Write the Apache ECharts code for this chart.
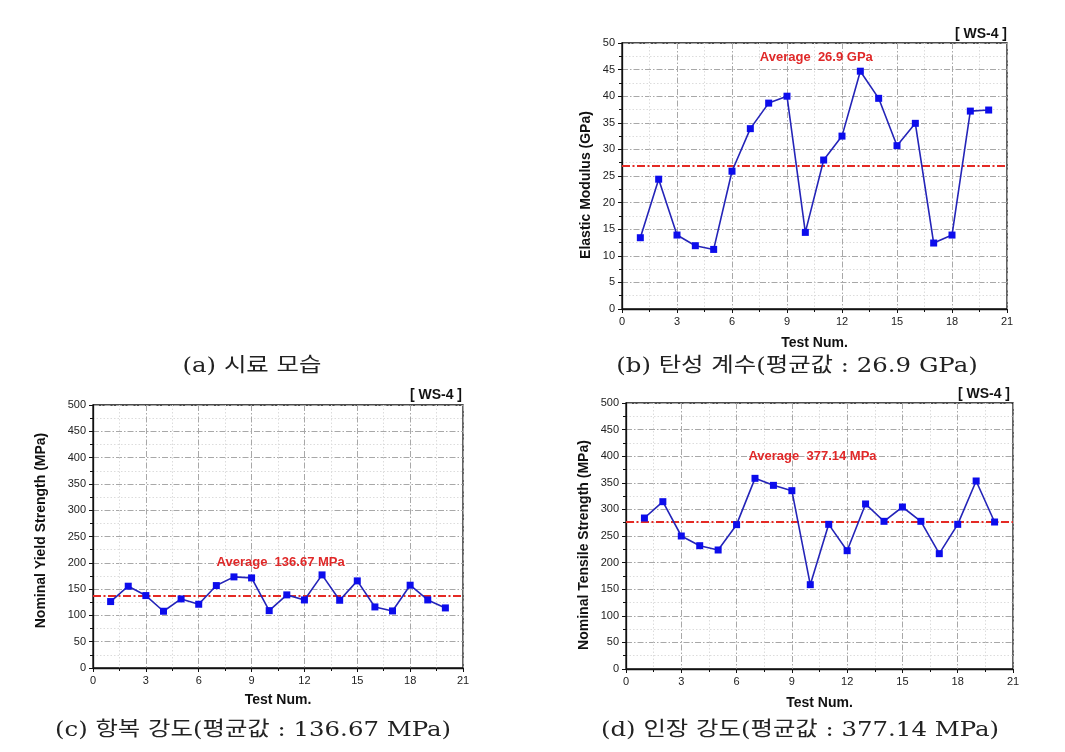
<!DOCTYPE html>
<html>
<head>
<meta charset="utf-8">
<script src="https://cdn.jsdelivr.net/npm/echarts@6/dist/echarts.min.js"></script>
<style>
html,body{margin:0;padding:0;background:#fff;}
#chart{width:1065px;height:752px;}
</style>
</head>
<body>
<div id="chart"></div>
<script>
// ---- data ----
const testNums = [1,2,3,4,5,6,7,8,9,10,11,12,13,14,15,16,17,18,19,20];
const elasticModulus = [13.4,24.4,13.9,11.9,11.2,25.9,33.9,38.7,40.0,14.4,28.0,32.5,44.7,39.6,30.7,34.9,12.4,13.9,37.2,37.4];
const yieldStrength = [126.3,155.5,137.7,107.9,131.3,121.2,156.7,173.2,171.3,109.1,139.0,129.4,177.0,128.8,165.6,116.1,108.5,157.4,129.4,114.2];
const tensileStrength = [283.8,314.5,250.0,231.8,223.7,271.3,358.4,345.2,335.2,158.5,271.9,222.4,310.2,277.6,304.5,277.6,216.8,271.9,353.4,276.3];
const averageLines = [27.0, 136.67, 277.6];
const averageLabels = ['Average  26.9 GPa', 'Average  136.67 MPa', 'Average  377.14 MPa'];
const yAxisNames = ['Elastic Modulus (GPa)', 'Nominal Yield Strength (MPa)', 'Nominal Tensile Strength (MPa)'];
const xAxisName = 'Test Num.';
const yMax = [50, 500, 500];
const yInterval = [5, 50, 50];
const xMax = 21, xInterval = 3;
const specimenTag = '[ WS-4 ]';
const captions = ['(a) 시료 모습', '(b) 탄성 계수(평균값 : 26.9 GPa)', '(c) 항복 강도(평균값 : 136.67 MPa)', '(d) 인장 강도(평균값 : 377.14 MPa)'];

// ---- layout ----
const grids = [
  {left: 622, top: 43, width: 385, height: 266},
  {left: 93, top: 405, width: 370, height: 263},
  {left: 626, top: 403, width: 387, height: 266}
];
const yNameGap = [29, 45, 35];
const yNamePad = [[0,18,0,0],[0,0,0,12],[0,18,0,0]];
const xNameGap = [27, 25, 27];
const labelCoords = [[10.6, 47.2], [10.65, 200.5], [10.12, 399.7]];

const sans = "'Liberation Sans', Arial, sans-serif";
const capFont = "'DejaVu Serif', 'Noto Sans CJK KR', serif";

const seriesData = [elasticModulus, yieldStrength, tensileStrength];

const axisCommon = {
  axisLine: {show: true, onZero: false, lineStyle: {color: '#111', width: 1.3}},
  axisTick: {show: true, inside: false, length: 4, lineStyle: {color: '#111', width: 1}},
  minorTick: {show: true, splitNumber: 2, length: 3, lineStyle: {color: '#111', width: 1}},
  splitLine: {show: true, lineStyle: {color: '#a8a8a8', width: 1, type: [6, 2, 1.5, 2]}},
  minorSplitLine: {show: true, lineStyle: {color: '#dcdcdc', width: 1, type: [1.5, 2]}},
  axisLabel: {fontFamily: sans, fontSize: 11, color: '#222', margin: 7}
};

const option = {
  animation: false,
  backgroundColor: '#fff',
  grid: grids.map(g => Object.assign({show: true, borderColor: '#111', borderWidth: 1.3, backgroundColor: 'transparent'}, g)),
  xAxis: grids.map((g, i) => Object.assign({}, axisCommon, {
    type: 'value', gridIndex: i, min: 0, max: xMax, interval: xInterval,
    name: xAxisName, nameLocation: 'middle', nameGap: xNameGap[i],
    nameTextStyle: {fontFamily: sans, fontSize: 14, fontWeight: 'bold', color: '#111'}
  })),
  yAxis: grids.map((g, i) => Object.assign({}, axisCommon, {
    type: 'value', gridIndex: i, min: 0, max: yMax[i], interval: yInterval[i],
    name: yAxisNames[i], nameLocation: 'middle', nameGap: yNameGap[i], nameRotate: 90,
    nameTextStyle: {fontFamily: sans, fontSize: 14, fontWeight: 'bold', color: '#111', padding: yNamePad[i]}
  })),
  series: seriesData.map((vals, i) => ({
    type: 'line', xAxisIndex: i, yAxisIndex: i,
    data: testNums.map((n, k) => [n, vals[k]]),
    symbol: 'rect', symbolSize: 7,
    itemStyle: {color: '#0c0cec'},
    lineStyle: {color: '#2424b8', width: 1.6},
    z: 3,
    markLine: {
      silent: true, symbol: 'none',
      label: {show: false},
      lineStyle: {color: '#e42a24', width: 2, type: [8, 2.5, 2, 2.5]},
      data: [{yAxis: averageLines[i]}],
      z: 2
    },
    markPoint: {
      silent: true, symbol: 'rect', symbolSize: 0,
      label: {show: true, position: 'inside', formatter: averageLabels[i],
        fontFamily: sans, fontSize: 13, fontWeight: 'bold', color: '#e02828'},
      data: [{coord: labelCoords[i]}]
    }
  })),
  graphic: [
    {type: 'text', right: 1065 - 1007, top: 27, style: {text: specimenTag, font: "bold 14px 'Liberation Sans'", fill: '#111'}},
    {type: 'text', right: 1065 - 462, top: 388, style: {text: specimenTag, font: "bold 14px 'Liberation Sans'", fill: '#111'}},
    {type: 'text', right: 1065 - 1010, top: 387, style: {text: specimenTag, font: "bold 14px 'Liberation Sans'", fill: '#111'}},
    {type: 'text', x: 252, y: 367, scaleX: 1.22, style: {text: captions[0], font: "20px " + capFont, fill: '#222', align: 'center', verticalAlign: 'middle'}},
    {type: 'text', x: 797, y: 367, scaleX: 1.22, style: {text: captions[1], font: "20px " + capFont, fill: '#222', align: 'center', verticalAlign: 'middle'}},
    {type: 'text', x: 253, y: 731, scaleX: 1.22, style: {text: captions[2], font: "20px " + capFont, fill: '#222', align: 'center', verticalAlign: 'middle'}},
    {type: 'text', x: 800, y: 731, scaleX: 1.22, style: {text: captions[3], font: "20px " + capFont, fill: '#222', align: 'center', verticalAlign: 'middle'}}
  ]
};

const chart = echarts.init(document.getElementById('chart'), null, {renderer: 'canvas'});
chart.setOption(option);
</script>
</body>
</html>
